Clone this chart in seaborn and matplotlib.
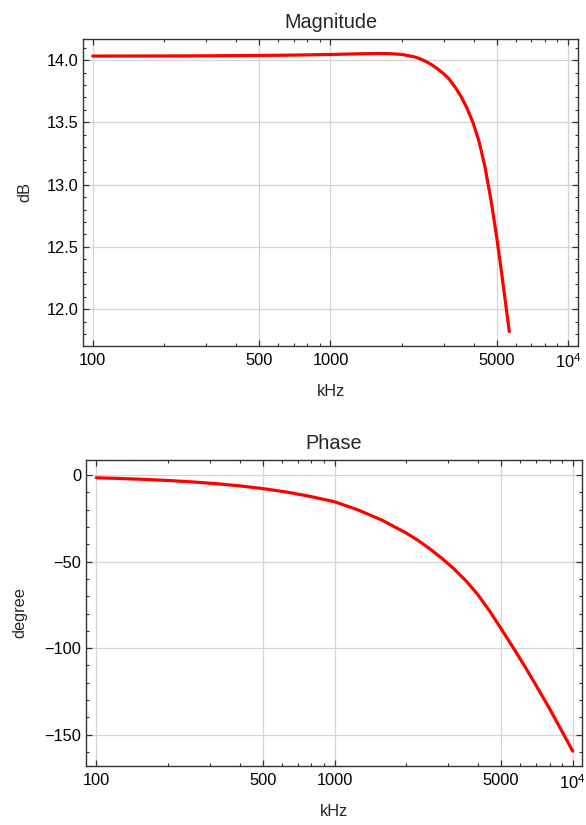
import numpy as np
import pandas as pd
import seaborn as sns
import matplotlib
matplotlib.use("Agg")
import matplotlib.pyplot as plt
from matplotlib.ticker import FixedLocator, FixedFormatter, LogLocator, MultipleLocator, NullFormatter

# magnitude response
freq_mag = [100, 200, 300, 500, 700, 1000, 1300, 1600, 1800, 2000, 2239, 2371, 2512,
            2661, 2818, 2985, 3162, 3350, 3548, 3758, 3981, 4217, 4467, 4732, 5012,
            5309, 5650]
mag_db = [14.032, 14.033, 14.034, 14.037, 14.040, 14.045, 14.050, 14.053, 14.051,
          14.045, 14.027, 14.012, 13.990, 13.963, 13.930, 13.892, 13.845, 13.780,
          13.705, 13.610, 13.495, 13.345, 13.140, 12.875, 12.565, 12.215, 11.820]

# phase response
freq_phase = [100, 126, 158, 200, 251, 316, 398, 501, 631, 794, 1000, 1259, 1585,
              1995, 2239, 2512, 2818, 3162, 3548, 3981, 4467, 5012, 5623, 6310, 7079,
              7943, 8913, 10000]
phase_deg = [-1.56, -1.97, -2.47, -3.12, -3.92, -4.93, -6.21, -7.82, -9.84, -12.39,
             -15.4, -20.2, -26.1, -33.4, -37.7, -42.6, -48.0, -54.0, -60.8, -68.8,
             -78.3, -88.9, -99.7, -110.8, -122.4, -134.3, -146.8, -159.5]

x_ticks = [100, 500, 1000, 5000, 10000]
x_tick_labels = ["100", "500", "1000", "5000", r"$\mathregular{10^4}$"]

sns.set_theme(style="ticks")
plt.rcParams['font.family'] = ['Liberation Sans', 'DejaVu Sans']
plt.rcParams['mathtext.fontset'] = 'custom'
plt.rcParams['mathtext.rm'] = 'Liberation Sans'
plt.rcParams['axes.unicode_minus'] = True

fig = plt.figure(figsize=(5.86, 8.25), dpi=100)
ax1 = fig.add_axes([0.1422, 0.581, 0.8441, 0.3717])
ax2 = fig.add_axes([0.1468, 0.0715, 0.8459, 0.3709])

df_mag = pd.DataFrame({"kHz": freq_mag, "dB": mag_db})
df_phase = pd.DataFrame({"kHz": freq_phase, "degree": phase_deg})

sns.lineplot(data=df_mag, x="kHz", y="dB", ax=ax1, color="#ff0000", linewidth=2.3,
             estimator=None, sort=False)
sns.lineplot(data=df_phase, x="kHz", y="degree", ax=ax2, color="#ff0000", linewidth=2.3,
             estimator=None, sort=False)


def style_axis(ax, title, ylabel, xlim, ylim, ymajor, yminor, yfmt, ypad):
    ax.set_xscale("log")
    ax.set_xlim(*xlim)
    ax.set_ylim(*ylim)
    ax.xaxis.set_major_locator(FixedLocator(x_ticks))
    ax.xaxis.set_major_formatter(FixedFormatter(x_tick_labels))
    ax.xaxis.set_minor_locator(LogLocator(base=10, subs=np.arange(2, 10)))
    ax.xaxis.set_minor_formatter(NullFormatter())
    ax.yaxis.set_major_locator(MultipleLocator(ymajor))
    ax.yaxis.set_minor_locator(MultipleLocator(yminor))
    ax.yaxis.set_major_formatter(yfmt)
    ax.grid(True, which="major", color="#d4d4d4", linewidth=0.9)
    ax.set_axisbelow(True)
    for s in ax.spines.values():
        s.set_visible(True)
        s.set_color("#333333")
        s.set_linewidth(1.0)
    ax.tick_params(which="both", direction="in", top=True, right=True,
                   colors="#333333", labelcolor="black", labelsize=11.8)
    ax.tick_params(which="major", length=4.5, width=0.9)
    ax.tick_params(which="minor", length=2.5, width=0.8)
    ax.tick_params(axis="x", pad=5)
    ax.set_title(title, fontsize=14.3, pad=8)
    ax.set_xlabel("kHz", fontsize=11.8, labelpad=9)
    ax.set_ylabel(ylabel, fontsize=11.8, labelpad=ypad)


style_axis(ax1, "Magnitude", "dB", (91.3, 10985), (11.707, 14.169), 0.5, 0.1,
           matplotlib.ticker.FormatStrFormatter("%.1f"), 10)
style_axis(ax2, "Phase", "degree", (90.5, 10910), (-168.1, 8.7), 50, 10,
           matplotlib.ticker.FuncFormatter(lambda v, p: f"{v:.0f}".replace("-", "\u2212")), 12.5)

fig.savefig("out.png", dpi=100)
